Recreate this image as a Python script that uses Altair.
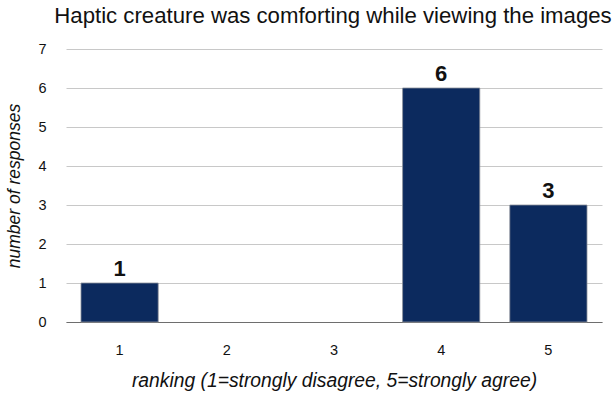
import altair as alt
import pandas as pd

# Survey responses per ranking level
rankings = ["1", "2", "3", "4", "5"]
responses = [1, 0, 0, 6, 3]
labels = ["1", "", "", "6", "3"]

df = pd.DataFrame({"ranking": rankings, "count": responses, "label": labels})

x_scale = alt.Scale(domain=rankings, paddingInner=0.28, paddingOuter=0.14)
y_scale = alt.Scale(domain=[0, 7], nice=False)

x_enc = alt.X(
    "ranking:N",
    scale=x_scale,
    axis=alt.Axis(
        title="ranking (1=strongly disagree, 5=strongly agree)",
        titleFontStyle="italic",
        titleFontWeight="normal",
        titleFontSize=19.3,
        titleFont="Liberation Sans",
        titleColor="#111",
        titlePadding=15,
        labelFont="Liberation Sans",
        labelFontSize=14.5,
        labelColor="#111",
        labelAngle=0,
        labelPadding=21,
        ticks=False,
        domainColor="#6e6e6e",
        domainWidth=1.2,
    ),
)

y_enc = alt.Y(
    "count:Q",
    scale=y_scale,
    axis=alt.Axis(
        title="number of responses",
        titleFontStyle="italic",
        titleFontWeight="normal",
        titleFontSize=17.5,
        titleFont="Liberation Sans",
        titleColor="#111",
        titlePadding=14,
        labelFont="Liberation Sans",
        labelFontSize=14.5,
        labelColor="#111",
        labelPadding=20,
        labelOverlap=False,
        values=[0, 1, 2, 3, 4, 5, 6, 7],
        ticks=False,
        domain=False,
        grid=True,
        gridColor="#c8c8c8",
        gridWidth=1,
    ),
)

bars = (
    alt.Chart(df)
    .transform_filter(alt.datum["count"] > 0)
    .mark_bar(color="#0c2a5e", stroke="#8a8f99", strokeWidth=0.8)
    .encode(x=x_enc, y=y_enc)
)

text = alt.Chart(df).mark_text(
    font="Liberation Sans",
    fontSize=22,
    fontWeight="bold",
    baseline="alphabetic",
    dy=-7,
    color="#111",
).encode(x=x_enc, y=y_enc, text="label:N")

chart = (
    alt.layer(bars, text)
    .properties(
        width=536,
        height=273,
        title=alt.TitleParams(
            "Haptic creature was comforting while viewing the images",
            font="Liberation Sans",
            fontSize=22.2,
            fontWeight="normal",
            color="#111",
            anchor="middle",
            dx=-1,
            offset=14,
        ),
        padding={"left": 66, "top": 49, "right": 13, "bottom": 77},
        autosize=alt.AutoSizeParams(type="none"),
    )
    .configure_view(stroke=None)
)

chart.save("out.html", embed_options={"renderer": "svg", "actions": False})
